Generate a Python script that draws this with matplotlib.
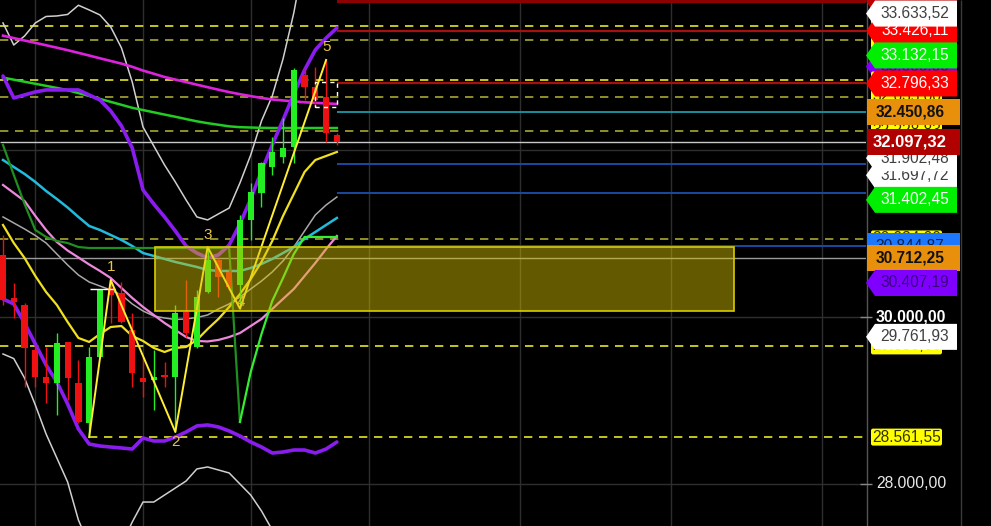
import matplotlib
matplotlib.use("Agg")
import matplotlib.pyplot as plt
from matplotlib.patches import Rectangle, Polygon, FancyBboxPatch
import numpy as np

plt.rcParams['font.family'] = ['Liberation Sans', 'DejaVu Sans']

# ---------------- data ----------------
opens = [30743, 30228, 30144, 29605, 29281, 29210, 29701, 29210, 28731, 29521,
         30347, 30287, 29844, 29269, 29246, 29305, 29281, 30060, 29641, 30299,
         30683, 30539, 30383, 31162, 31485, 31796, 31916, 32036, 32898, 32754,
         32635, 32180]
highs = [30982, 30407, 30168, 29665, 29641, 29808, 29701, 29485, 29641, 30335,
         30443, 30419, 30048, 29521, 29605, 29461, 30144, 30443, 30323, 30838,
         30707, 30587, 31222, 31605, 31856, 32156, 32383, 32982, 32982, 32994,
         33078, 32204]
lows = [30144, 29988, 29162, 29162, 28970, 28826, 29006, 28731, 28561.55, 29509,
        29928, 29928, 29162, 29042, 28886, 29162, 28623, 29760, 29629, 30290,
        30240, 30323, 30100, 30922, 31317, 31701, 31844, 31844, 32599, 32515,
        32096, 32060]
closes = [30204, 30180, 29629, 29281, 29210, 29689, 29269, 28743, 29521, 30323,
          30263, 29940, 29329, 29222, 29281, 29281, 30048, 29808, 30240, 30683,
          30479, 30359, 31162, 31497, 31850, 31976, 32024, 32958, 32754, 32599,
          32204, 32097.32]

upper_purple = [32886, 32623, 32659, 32695, 32719, 32719, 32719, 32719, 32659, 32599,
                32467, 32287, 32024, 31521, 31353, 31198, 31030, 30850, 30766, 30707,
                30743, 30862, 31114, 31413, 31748, 32060, 32359, 32671, 32958, 33198,
                33341, 33461]
lower_purple = [30216, 30156, 29928, 29677, 29425, 29222, 28958, 28659, 28479, 28455,
                28443, 28431, 28419, 28551, 28515, 28515, 28563, 28623, 28695, 28707,
                28683, 28635, 28575, 28503, 28443, 28371, 28383, 28407, 28407, 28371,
                28419, 28503]
magenta_ma = [33369, 33340, 33311, 33283, 33254, 33225, 33195, 33163, 33131, 33098,
              33066, 33034, 32996, 32951, 32913, 32874, 32843, 32813, 32782, 32752,
              32722, 32693, 32668, 32645, 32623, 32605, 32593, 32582, 32571, 32564,
              32558, 32551]
green_ma = [32867, 32842, 32817, 32793, 32768, 32743, 32716, 32681, 32647, 32612,
            32576, 32541, 32505, 32478, 32451, 32424, 32398, 32370, 32343, 32321,
            32302, 32283, 32273, 32269, 32265, 32263, 32263, 32263, 32263, 32263,
            32263, 32263]
bb_upper = [33521, 33257, 33365, 33521, 33599, 33605, 33623, 33733, 33677, 33617,
            33473, 33222, 32814, 32275, 32048, 31820, 31617, 31401, 31198, 31162,
            31234, 31305, 31605, 31940, 32347, 32647, 33090, 33641, 34335, 34875,
            35353, 35772]
bb_lower = [29557, 29502, 29269, 28946, 28599, 28311, 28024, 27569, 27269, 27090,
            27090, 27269, 27545, 27784, 27784, 27868, 27952, 28036, 28180, 28204,
            28168, 28132, 28000, 27868, 27677, 27449, 27210, 26970, 26790, 26610,
            26490, 26370]
bb_mid = [31198, 31126, 31054, 30976, 30886, 30754, 30623, 30503, 30419, 30371,
          30323, 30263, 30156, 30072, 30012, 29988, 29970, 29976, 29994, 30024,
          30096, 30156, 30240, 30335, 30431, 30539, 30671, 30838, 31030, 31222,
          31341, 31437]
cyan_ma = [31880, 31796, 31713, 31617, 31509, 31413, 31311, 31198, 31090, 31042,
           30982, 30922, 30850, 30766, 30731, 30695, 30659, 30629, 30599, 30563,
           30551, 30551, 30551, 30587, 30635, 30695, 30766, 30838, 30934, 31018,
           31102, 31186]
pink_ma = [31581, 31485, 31389, 31210, 31042, 30898, 30796, 30713, 30629, 30551,
           30467, 30347, 30228, 30120, 30024, 29928, 29844, 29760, 29713, 29707,
           29725, 29760, 29808, 29892, 29976, 30096, 30216, 30335, 30491, 30647,
           30814, 30970]
yellow_ma = [31102, 30886, 30707, 30491, 30299, 30144, 29940, 29749, 29701, 29796,
             29880, 29892, 29772, 29713, 29629, 29581, 29629, 29641, 29725, 29856,
             29976, 30120, 30275, 30455, 30659, 30910, 31210, 31473, 31737, 31880,
             31928, 31976]
green_line = [32060, 31701, 31353, 31042, 30958, 30910, 30886, 30838, 30826, 30826,
              30826, 30826, 30826, 30826, 30826, 30826, 30826, 30826, 30826, 30826,
              30826, 30826, 28743, 29341, 29796, 30192, 30467, 30754, 30958, 30958,
              30958, 30958]

wave_idx = [8, 10, 16, 19, 22, 30]
wave_price = [28561.55, 30443, 28623, 30838, 30100, 33078]
wave_names = ['', '1', '2', '3', '4', '5']

dashed_bright = [33485, 32838, 29653]
dashed_olive = [33317, 32635, 32228, 30934]
wave_low_level = 28561.55
level_darkred = [33784]
level_red = [33426.11, 32796.33]
level_teal = [32450.86]
level_blue = [31832, 31485, 30844.87]
level_gray_full = [32097.32, 30712.25]

zone_low, zone_high = 30070, 30838
zone_start, zone_end = 14.1, 67.9
sel_box = (29.0, 31.0, 32515, 32814)
prev_high_mark = 30335

grid_x = [3, 13, 23, 34, 48, 62, 76]
grid_y = [28000, 30000, 32000]
axis_ticks = [30000, 28000]

# label list, back to front: (value, face, text colour, shape, bold, show text)
price_labels = [
    (33784, '#c00000', 'white', 'arrow', False, False),
    (33485, '#ffff00', '#333300', 'tag', False, True),
    (33317, '#ffff00', '#333300', 'tag', False, True),
    (33000, '#8000ff', '#3a0080', 'arrow', False, True),
    (32838, '#ffff00', '#333300', 'tag', False, True),
    (32635, '#ffff00', '#333300', 'tag', False, True),
    (32228.83, '#ffff00', '#333300', 'tag', False, True),
    (33426.11, '#ff0000', 'white', 'arrow', False, True),
    (33633.52, '#ffffff', '#404040', 'arrow', False, True),
    (33132.15, '#00ee00', 'white', 'arrow', False, True),
    (32796.33, '#ff0000', 'white', 'arrow', False, True),
    (32450.86, '#e8900c', '#111111', 'rect', True, True),
    (31697.72, '#ffffff', '#404040', 'arrow', False, True),
    (31902.48, '#ffffff', '#404040', 'arrow', False, True),
    (32097.32, '#b00000', 'white', 'rect', True, True),
    (31402.45, '#00ee00', 'white', 'arrow', False, True),
    (30934.00, '#ffff00', '#333300', 'tag', False, True),
    (30844.87, '#1e78ff', '#102040', 'rect', False, True),
    (30712.25, '#e8900c', '#111111', 'rect', True, True),
    (30407.19, '#8000ff', '#3a0080', 'arrow', False, True),
    (29653.66, '#ffff00', '#333300', 'tag', False, True),
    (29761.93, '#ffffff', '#404040', 'arrow', False, True),
    (28561.55, '#ffff00', '#333300', 'tag', False, True),
]

# ---------------- figure ----------------
W, H = 991, 526
fig = plt.figure(figsize=(W / 100, H / 100), dpi=100, facecolor='black')
ymin, ymax = 27497, 33796
px_per_price = H / (ymax - ymin)

ax = fig.add_axes([0, 0, 866 / W, 1])
ax.set_facecolor('black')
ax.set_xlim(-0.279, 80.13)
ax.set_ylim(ymin, ymax)
for s in ax.spines.values():
    s.set_visible(False)
ax.set_xticks(grid_x)
ax.set_yticks(grid_y)
ax.tick_params(length=0, labelbottom=False, labelleft=False)
ax.grid(True, color='#2e2e2e', lw=1.0)
ax.set_axisbelow(True)

x = np.arange(len(opens))
xl, xr = ax.get_xlim()

# horizontal levels
dash = (0, (5, 4))
for v in dashed_bright:
    ax.hlines(v, xl, xr, colors='#e6e62a', lw=1.2, linestyles=[dash], zorder=1)
for v in dashed_olive:
    ax.hlines(v, xl, xr, colors='#a8a832', lw=1.2, linestyles=[dash], zorder=1)
ax.hlines(wave_low_level, wave_idx[0], xr, colors='#e6e62a', lw=1.2, linestyles=[dash], zorder=1)
last = x[-1]
for v in level_darkred:
    ax.hlines(v, last, xr, colors='#8b0000', lw=3, zorder=1)
for v in level_red:
    ax.hlines(v, last, xr, colors='#a81010', lw=1.6, zorder=1)
for v in level_teal:
    ax.hlines(v, last, xr, colors='#1a8c9c', lw=1.4, zorder=1)
for v in level_blue:
    ax.hlines(v, last, xr, colors='#1a4aa0', lw=1.4, zorder=1)
ax.hlines(level_gray_full[0], xl, xr, colors='#c8c8c8', lw=1.0, zorder=1)
ax.hlines(level_gray_full[1], xl, xr, colors='#9a9a9a', lw=1.0, zorder=1)

# indicator lines
ax.plot(x, bb_upper, color='#d0d0d0', lw=1.1, zorder=2)
ax.plot(x, bb_lower, color='#d0d0d0', lw=1.1, zorder=2)
ax.plot(x, bb_mid, color='#a8a8a8', lw=1.1, zorder=2)
ax.plot(x, magenta_ma, color='#dd22dd', lw=1.9, zorder=2)
ax.plot(x, green_ma, color='#22cc22', lw=1.8, zorder=2)
ax.plot(x, cyan_ma, color='#22bbdd', lw=1.8, zorder=2)
ax.plot(x, pink_ma, color='#ee88dd', lw=1.6, zorder=2)
ax.plot(x, yellow_ma, color='#f0e020', lw=1.6, zorder=2)
ax.plot(x[:23], green_line[:23], color='#1f8f1f', lw=1.6, zorder=2)
ax.plot(x[22:], green_line[22:], color='#33ee33', lw=1.6, zorder=2)
ax.plot(x, upper_purple, color='#8a1cf0', lw=2.6, zorder=2, solid_capstyle='round')
ax.plot(x, lower_purple, color='#8a1cf0', lw=2.6, zorder=2, solid_capstyle='round')

# candles
o = np.array(opens); c = np.array(closes); hi = np.array(highs); lo = np.array(lows)
up = c >= o
cols = np.where(up, '#22ee22', '#ee1111')
ax.vlines(x, lo, hi, colors=cols, lw=1.0, zorder=3)
body_b = np.minimum(o, c)
body_h = np.maximum(np.abs(c - o), 25)
ax.bar(x, body_h, bottom=body_b, width=0.58, color=cols, zorder=3, linewidth=0)

# previous high marker & selection box
ax.hlines(prev_high_mark, 8.1, 10.4, colors='white', lw=1.0, zorder=3)
ax.add_patch(Rectangle((sel_box[0], sel_box[2]), sel_box[1] - sel_box[0], sel_box[3] - sel_box[2],
                       fill=False, ec='white', lw=1.0, ls=(0, (3, 3)), zorder=4))

# zigzag
ax.plot(wave_idx, wave_price, color='#ffee33', lw=1.4, zorder=4)
for i, (wi, wp, nm) in enumerate(zip(wave_idx, wave_price, wave_names)):
    if not nm:
        continue
    if nm == '4':
        off = (1, 5)
    elif i % 2 == 1:
        off = (0, 9)
    else:
        off = (0, -7)
    ax.annotate(nm, (wi, wp), xytext=off, textcoords='offset points', ha='center',
                va='center', color='#e8c840', fontsize=11, zorder=4)

# zone box
ax.add_patch(Rectangle((zone_start, zone_low), zone_end - zone_start, zone_high - zone_low,
                       fc='#d4be00', alpha=0.47, ec='none', zorder=5))
ax.add_patch(Rectangle((zone_start, zone_low), zone_end - zone_start, zone_high - zone_low,
                       fill=False, ec='#d8cc00', lw=1.2, zorder=5))

# ---------------- price scale ----------------
al = fig.add_axes([0, 0, 1, 1], zorder=6)
al.set_xlim(0, W)
al.set_ylim(ymin, ymax)
al.axis('off')
al.patch.set_alpha(0)
al.vlines([866.5], ymin, ymax, colors='#555555', lw=1, zorder=0.5)
al.vlines([960.5], ymin, ymax, colors='#3a3a3a', lw=1, zorder=0.5)


def fmt(v):
    s = f"{v:,.2f}"
    return s.replace(',', '#').replace('.', ',').replace('#', '.')


for t in axis_ticks:
    al.hlines(t, 860, 872, colors='#888888', lw=1, zorder=0.6)
al.text(911, axis_ticks[0], fmt(axis_ticks[0]), color='white', fontsize=11.3,
        fontweight='bold', ha='center', va='center', zorder=0.7)
al.text(911, axis_ticks[1], fmt(axis_ticks[1]), color='#e8e8e8', fontsize=11.3,
        ha='center', va='center', zorder=0.7)

hh = 13 / px_per_price
ht = 8.5 / px_per_price
for k, (v, fc, tc, shape, bold, show) in enumerate(price_labels):
    z = 1 + k
    if shape == 'arrow':
        poly = [(866, v), (875, v + hh), (957, v + hh), (957, v - hh), (875, v - hh)]
        al.add_patch(Polygon(poly, closed=True, fc=fc, ec='none', zorder=z))
        tx = 915
    elif shape == 'rect':
        al.add_patch(Rectangle((867, v - hh), 93, 2 * hh, fc=fc, ec='none', zorder=z))
        tx = 910
    else:
        al.add_patch(FancyBboxPatch((871, v - ht), 71, 2 * ht,
                                    boxstyle='round,pad=0,rounding_size=2',
                                    mutation_aspect=1 / px_per_price, fc=fc, ec='none',
                                    zorder=z))
        tx = 907
    if show:
        al.text(tx, v, fmt(v), color=tc, fontsize=12 if (bold and fc == '#b00000') else 11.2,
                fontweight='bold' if bold else 'normal', ha='center', va='center',
                zorder=z + 0.5)

fig.savefig('out.png', dpi=100, facecolor='black')
